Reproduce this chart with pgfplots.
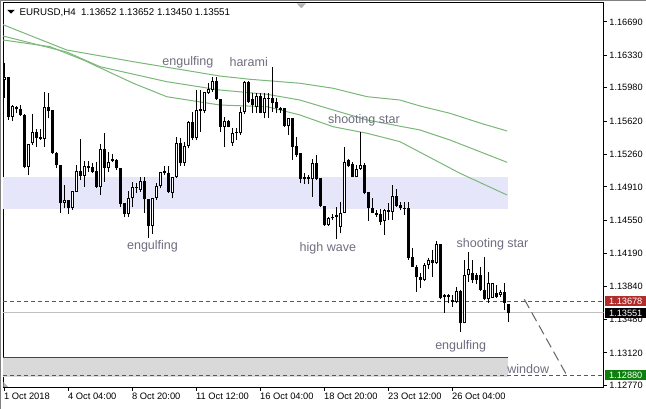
\documentclass[border=0pt]{standalone}
\usepackage{fontspec}
\setmainfont{Liberation Sans}
\usepackage{pgfplots}
\usepackage{pgfplotstable}
\pgfplotsset{compat=1.18}

\definecolor{maGreen}{RGB}{122,184,122}
\definecolor{lblGray}{RGB}{110,110,128}
\definecolor{zoneBlue}{RGB}{230,230,250}
\definecolor{zoneGray}{RGB}{217,217,217}
\definecolor{zoneEdge}{RGB}{47,79,79}
\definecolor{tagRed}{RGB}{178,44,44}
\definecolor{lineRed}{RGB}{200,40,40}
\definecolor{tagGreen}{RGB}{12,128,12}
\definecolor{lineGreen}{RGB}{0,150,0}
\definecolor{bidGray}{RGB}{192,192,192}
\definecolor{trendGray}{RGB}{100,100,100}

\newcommand\axfont{\fontsize{6.9}{8}\selectfont}
\newcommand\lblfont{\fontsize{9.4}{11}\selectfont}

% EURUSD H4 bars: index, open, high, low, close
\pgfplotstableread{
i o h l c
0 1.16064 1.16244 1.15867 1.16093
1 1.16093 1.16097 1.15633 1.15668
2 1.15668 1.15794 1.15625 1.15784
3 1.15773 1.15787 1.15705 1.15748
4 1.15748 1.15794 1.15676 1.15683
5 1.15683 1.15697 1.15111 1.15129
6 1.15129 1.15374 1.15039 1.15370
7 1.15381 1.15697 1.15363 1.15500
8 1.15500 1.15536 1.15345 1.15442
9 1.15446 1.15536 1.15417 1.15428
10 1.15428 1.15932 1.15345 1.15770
11 1.15770 1.15927 1.15651 1.15733
12 1.15741 1.15741 1.15266 1.15280
13 1.15280 1.15287 1.15111 1.15144
14 1.15144 1.15144 1.14632 1.14740
15 1.14740 1.14931 1.14680 1.14769
16 1.14769 1.14769 1.14618 1.14686
17 1.14686 1.14867 1.14662 1.14867
18 1.14859 1.15144 1.14859 1.15082
19 1.15082 1.15428 1.14985 1.15032
20 1.15032 1.15190 1.14913 1.15133
21 1.15133 1.15190 1.15075 1.15111
22 1.15126 1.15165 1.15058 1.15075
23 1.15082 1.15183 1.14896 1.14913
24 1.14913 1.15370 1.14823 1.15316
25 1.15316 1.15489 1.14967 1.15118
26 1.15118 1.15284 1.15075 1.15176
27 1.15212 1.15263 1.15176 1.15193
28 1.15204 1.15212 1.15093 1.15111
29 1.15111 1.15111 1.14697 1.14726
30 1.14734 1.14734 1.14589 1.14618
31 1.14618 1.14867 1.14589 1.14794
32 1.14788 1.14967 1.14691 1.14906
33 1.14913 1.14950 1.14842 1.14896
34 1.14877 1.15021 1.14859 1.14974
35 1.14974 1.15021 1.14632 1.14777
36 1.14780 1.14780 1.14356 1.14489
37 1.14489 1.14794 1.14403 1.14794
38 1.14794 1.14956 1.14769 1.14921
39 1.14921 1.15075 1.14896 1.15075
40 1.15064 1.15140 1.15039 1.15082
41 1.15058 1.15136 1.14848 1.14859
42 1.14848 1.15021 1.14788 1.15021
43 1.15021 1.15452 1.15004 1.15381
44 1.15381 1.15442 1.15136 1.15165
45 1.15165 1.15399 1.15136 1.15352
46 1.15352 1.15622 1.15327 1.15614
47 1.15614 1.15722 1.15417 1.15435
48 1.15435 1.15956 1.15417 1.15741
49 1.15733 1.15956 1.15506 1.15748
50 1.15730 1.15935 1.15705 1.15932
51 1.15921 1.16029 1.15910 1.15964
52 1.15956 1.16093 1.15938 1.16053
53 1.16053 1.16093 1.15848 1.15856
54 1.15856 1.15856 1.15506 1.15560
55 1.15560 1.15668 1.15338 1.15622
56 1.15622 1.15633 1.15552 1.15560
57 1.15381 1.15543 1.15352 1.15496
58 1.15489 1.15543 1.15417 1.15506
59 1.15496 1.15776 1.15471 1.15722
60 1.15722 1.16053 1.15694 1.16046
61 1.16046 1.16053 1.15819 1.15830
62 1.15856 1.15921 1.15705 1.15794
63 1.15776 1.15921 1.15705 1.15892
64 1.15892 1.15921 1.15705 1.15711
65 1.15705 1.15921 1.15651 1.15867
66 1.15856 1.15921 1.15651 1.15867
67 1.15867 1.16208 1.15722 1.15813
68 1.15824 1.15867 1.15705 1.15759
69 1.15741 1.15776 1.15711 1.15759
70 1.15765 1.15765 1.15560 1.15571
71 1.15571 1.15651 1.15471 1.15651
72 1.15651 1.15651 1.15201 1.15345
73 1.15355 1.15452 1.15237 1.15255
74 1.15273 1.15273 1.14950 1.14996
75 1.15014 1.15058 1.14942 1.14993
76 1.15014 1.15039 1.14942 1.14993
77 1.14993 1.15212 1.14805 1.15165
78 1.15165 1.15255 1.14985 1.14993
79 1.15004 1.15004 1.14697 1.14708
80 1.14708 1.14708 1.14489 1.14500
81 1.14500 1.14589 1.14492 1.14572
82 1.14589 1.14618 1.14554 1.14572
83 1.14608 1.14697 1.14345 1.14589
84 1.14481 1.14751 1.14410 1.14632
85 1.14632 1.15338 1.14626 1.15183
86 1.15201 1.15209 1.15122 1.15136
87 1.15158 1.15183 1.15014 1.15021
88 1.15021 1.15147 1.15014 1.15104
89 1.15104 1.15503 1.15093 1.15147
90 1.15147 1.15165 1.14831 1.14842
91 1.14859 1.14859 1.14546 1.14680
92 1.14680 1.14788 1.14626 1.14632
93 1.14632 1.14662 1.14589 1.14608
94 1.14615 1.14669 1.14500 1.14535
95 1.14546 1.14669 1.14392 1.14662
96 1.14643 1.14734 1.14554 1.14662
97 1.14643 1.14931 1.14554 1.14813
98 1.14813 1.14885 1.14697 1.14705
99 1.14715 1.14751 1.14662 1.14680
100 1.14686 1.14751 1.14608 1.14672
101 1.14680 1.14751 1.14122 1.14147
102 1.14158 1.14248 1.14043 1.14050
103 1.14050 1.14068 1.13780 1.13935
104 1.13942 1.13978 1.13817 1.13906
105 1.13906 1.14086 1.13898 1.14068
106 1.14068 1.14140 1.14022 1.14122
107 1.14122 1.14230 1.13942 1.14086
108 1.14086 1.14327 1.14079 1.14291
109 1.14291 1.14291 1.13698 1.13715
110 1.13744 1.13752 1.13553 1.13720
111 1.13744 1.13752 1.13655 1.13720
112 1.13690 1.13744 1.13618 1.13672
113 1.13672 1.13834 1.13655 1.13788
114 1.13788 1.13798 1.13348 1.13439
115 1.13439 1.14122 1.13439 1.13960
116 1.13960 1.14212 1.13888 1.14022
117 1.13978 1.14122 1.13871 1.13906
118 1.13960 1.13978 1.13863 1.13906
119 1.13960 1.14050 1.13791 1.13798
120 1.13798 1.14158 1.13690 1.13698
121 1.13698 1.13996 1.13661 1.13871
122 1.13715 1.13871 1.13709 1.13871
123 1.13763 1.13852 1.13709 1.13726
124 1.13748 1.13798 1.13726 1.13774
125 1.13780 1.13877 1.13583 1.13661
126 1.13652 1.13652 1.13450 1.13551
}\candles

\begin{document}
\begin{tikzpicture}
\useasboundingbox (0,0) rectangle (484.5pt,306.75pt);
\fill[white] (0,0) rectangle (484.5pt,306.75pt);
\draw[gray, line width=0.75pt] (0,306.375pt) -- (484.5pt,306.375pt);
\draw[gray, line width=0.75pt] (0.375pt,0) -- (0.375pt,306.75pt);
% header
\fill[black] (5.5pt,299.3pt) -- (11.1pt,299.3pt) -- (8.3pt,296.5pt) -- cycle;
\node[anchor=base west, inner sep=0pt, font=\fontsize{7.3}{8}\selectfont] at (14.5pt,295pt) {EURUSD,H4\ \ 1.13652 1.13652 1.13450 1.13551};
\begin{axis}[
  at={(2.25pt,15.75pt)}, anchor=south west,
  scale only axis, width=450.375pt, height=288.75pt,
  xmin=-0.325, xmax=149.8, ymin=1.12741, ymax=1.16895,
  axis line style={black, line width=0.75pt},
  tick style={black, line width=0.75pt},
  tick align=outside, major tick length=2.25pt,
  xtick pos=bottom, ytick pos=right, yticklabel pos=right,
  scaled y ticks=false, scaled x ticks=false,
  xtick={0,16,32,48,64,80,96,112},
  xticklabels={1 Oct 2018,4 Oct 04:00,8 Oct 20:00,11 Oct 12:00,16 Oct 04:00,18 Oct 20:00,23 Oct 12:00,26 Oct 04:00},
  xticklabel style={anchor=north west, inner sep=0pt, xshift=-0.3pt, yshift=-1.2pt, font=\fontsize{7}{8}\selectfont},
  ytick={1.16690,1.16330,1.15980,1.15620,1.15260,1.14910,1.14550,1.14190,1.13840,1.13480,1.13120,1.12770},
  yticklabels={1.16690,1.16330,1.15980,1.15620,1.15260,1.14910,1.14550,1.14190,1.13840,1.13480,1.13120,1.12770},
  yticklabel style={anchor=west, inner sep=0pt, xshift=2pt, font=\axfont},
  candle/.style={draw=none, mark=none, forget plot, error bars/.cd, y dir=plus, y explicit, error mark=none},
]
% zones
\addplot[fill=zoneBlue, draw=none] coordinates {(-0.325,1.14672) (125.85,1.14672) (125.85,1.15018) (-0.325,1.15018)} -- cycle;
\addplot[fill=zoneGray, draw=none] coordinates {(-0.325,1.12865) (125.85,1.12865) (125.85,1.13072) (-0.325,1.13072)} -- cycle;
\addplot[zoneEdge, line width=0.75pt] coordinates {(-0.325,1.13072) (125.85,1.13072)};
% horizontal price lines
\addplot[bidGray, line width=0.75pt] coordinates {(-0.325,1.13551) (149.8,1.13551)};
\addplot[lineRed, line width=0.75pt, dash pattern=on 3pt off 2.25pt] coordinates {(-0.325,1.13678) (149.8,1.13678)};
\addplot[lineGreen, line width=0.75pt, dash pattern=on 3pt off 2.25pt] coordinates {(-0.325,1.12880) (149.8,1.12880)};
\addplot[trendGray, line width=0.75pt, dash pattern=on 7.5pt off 3.75pt] coordinates {(130,1.13698) (140.6,1.12880)};
% moving averages
\addplot[maGreen, line width=0.75pt] coordinates {
(-0.33,1.16661) (15.6,1.16388) (32.2,1.16262) (53.9,1.16107) (61.4,1.16072) (73.9,1.16029)
(82.2,1.15975) (90.7,1.15884) (98.9,1.15848) (103.9,1.15784) (111.4,1.15705) (119.75,1.15589) (125.7,1.15514)};
\addplot[maGreen, line width=0.75pt] coordinates {
(-0.33,1.16539) (15.6,1.16366) (23.9,1.16208) (40.6,1.16046) (53.9,1.15956) (65.7,1.15910)
(73.9,1.15848) (82.2,1.15741) (90.7,1.15633) (103.9,1.15525) (111.4,1.15417) (125.7,1.15176)};
\addplot[maGreen, line width=0.75pt] coordinates {
(-0.33,1.16496) (11.4,1.16424) (19.75,1.16280) (32.25,1.16029) (40.6,1.15884) (53.9,1.15794)
(65.7,1.15776) (73.9,1.15687) (82.2,1.15560) (90.7,1.15489) (98.9,1.15399) (113.9,1.15058) (125.7,1.14823)};
% candles: wicks, bodies, hollow interiors of up bars
\addplot[candle, error bar style={draw=black, line width=0.75pt}]
  table[x=i, y=l, y error expr={\thisrow{h}-\thisrow{l}}] {\candles};
\addplot[candle, error bar style={draw=black, line width=2.25pt}]
  table[x=i, y expr={min(\thisrow{o},\thisrow{c})}, y error expr={max(abs(\thisrow{c}-\thisrow{o}),0.000108)}] {\candles};
\addplot[candle, error bar style={draw=white, line width=0.75pt}]
  table[x=i, y expr={min(\thisrow{o},\thisrow{c})+0.000108}, y error expr={(\thisrow{c}>\thisrow{o})*max(abs(\thisrow{c}-\thisrow{o})-0.000216,0)}] {\candles};
% pattern labels
\begin{scope}[every node/.style={font=\lblfont, text=lblGray, inner sep=0pt}]
\node at (axis cs:45.9,1.16258) {engulfing};
\node at (axis cs:61.1,1.16258) {harami};
\node at (axis cs:89.9,1.15633) {shooting star};
\node at (axis cs:37.05,1.14273) {engulfing};
\node at (axis cs:80.9,1.14251) {high wave};
\node at (axis cs:122.05,1.14295) {shooting star};
\node at (axis cs:114.1,1.13194) {engulfing};
\node at (axis cs:130.97,1.12943) {window};
\end{scope}
\coordinate (tagA) at (axis cs:149.8,1.13678);
\coordinate (tagB) at (axis cs:149.8,1.13551);
\coordinate (tagC) at (axis cs:149.8,1.12880);
\end{axis}
\fill[gray!60] (222.5pt,304.25pt) -- (229.5pt,304.25pt) -- (226pt,300.5pt) -- cycle;
\fill[gray!60] (2.6pt,20.25pt) -- (2.6pt,16.5pt) -- (6.3pt,16.5pt) -- cycle;
\begin{scope}[every node/.style={anchor=west, inner sep=0pt, minimum width=30.75pt, minimum height=7.8pt, text=white, font=\axfont, xshift=1.1pt}]
\node[fill=tagRed] at (tagA) {1.13678};
\node[fill=black] at (tagB) {1.13551};
\node[fill=tagGreen] at (tagC) {1.12880};
\end{scope}
\end{tikzpicture}
\end{document}
